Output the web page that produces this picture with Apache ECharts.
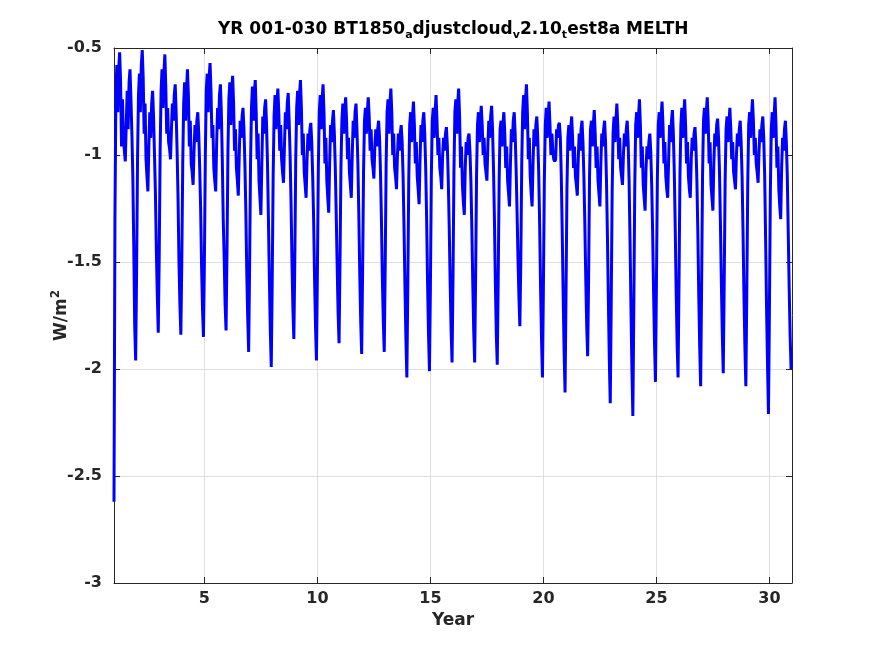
<!DOCTYPE html>
<html>
<head>
<meta charset="UTF-8">
<title>MELTH</title>
<script src="https://cdn.jsdelivr.net/npm/echarts@6/dist/echarts.min.js"></script>
<style>
  html, body { margin: 0; padding: 0; background: #fff; }
  #main { width: 875px; height: 656px; }
</style>
</head>
<body>
<div id="main"></div>
<script>
// time axis: 24 samples per year, first sample at year 1
var startYear = 1;
var stepsPerYear = 24;

// MELTH (W/m^2), one line per model year
var melthYears01to10 = [
  -2.62, -1.30, -0.72, -0.58, -0.80, -0.60, -0.52, -0.66, -0.96, -0.74, -0.92, -0.98, -1.03, -0.86, -0.70, -0.88, -0.66, -0.60, -0.74, -0.90, -1.10, -1.43, -1.80, -1.96,
  -1.55, -1.02, -0.72, -0.62, -0.80, -0.58, -0.51, -0.64, -0.90, -0.76, -1.02, -1.10, -1.17, -0.96, -0.80, -0.92, -0.76, -0.70, -0.82, -1.00, -1.18, -1.45, -1.66, -1.83,
  -1.48, -0.98, -0.70, -0.60, -0.78, -0.62, -0.53, -0.68, -0.90, -0.78, -0.94, -0.97, -1.02, -0.88, -0.76, -0.84, -0.72, -0.67, -0.80, -0.98, -1.20, -1.50, -1.70, -1.84,
  -1.50, -1.04, -0.76, -0.66, -0.84, -0.70, -0.60, -0.72, -0.96, -0.84, -1.04, -1.08, -1.14, -0.98, -0.86, -0.94, -0.84, -0.80, -0.90, -1.06, -1.25, -1.52, -1.72, -1.85,
  -1.50, -1.00, -0.70, -0.62, -0.80, -0.64, -0.57, -0.70, -0.92, -0.86, -1.06, -1.12, -1.17, -0.95, -0.78, -0.88, -0.72, -0.67, -0.80, -1.02, -1.30, -1.48, -1.70, -1.82,
  -1.45, -0.98, -0.74, -0.66, -0.86, -0.70, -0.63, -0.76, -0.98, -0.88, -1.06, -1.12, -1.19, -1.00, -0.84, -0.92, -0.82, -0.78, -0.88, -1.04, -1.26, -1.55, -1.76, -1.92,
  -1.52, -1.04, -0.78, -0.68, -0.84, -0.72, -0.65, -0.80, -1.02, -0.90, -1.12, -1.20, -1.28, -1.04, -0.82, -0.90, -0.78, -0.74, -0.86, -1.04, -1.30, -1.58, -1.82, -1.99,
  -1.60, -1.10, -0.82, -0.72, -0.88, -0.76, -0.69, -0.80, -0.98, -0.86, -1.02, -1.08, -1.13, -0.96, -0.80, -0.88, -0.76, -0.71, -0.84, -1.00, -1.22, -1.50, -1.72, -1.86,
  -1.50, -1.02, -0.78, -0.70, -0.86, -0.72, -0.65, -0.78, -1.00, -0.90, -1.08, -1.14, -1.20, -1.02, -0.90, -0.98, -0.88, -0.85, -0.94, -1.10, -1.30, -1.58, -1.80, -1.96,
  -1.55, -1.06, -0.80, -0.72, -0.88, -0.74, -0.67, -0.80, -1.04, -0.92, -1.12, -1.20, -1.27, -1.04, -0.86, -0.94, -0.84, -0.79, -0.90, -1.06, -1.28, -1.52, -1.74, -1.88
];
var melthYears11to20 = [
  -1.50, -1.06, -0.84, -0.76, -0.90, -0.80, -0.73, -0.84, -1.02, -0.92, -1.08, -1.14, -1.20, -1.00, -0.84, -0.92, -0.80, -0.76, -0.88, -1.04, -1.28, -1.56, -1.78, -1.93,
  -1.55, -1.08, -0.84, -0.78, -0.90, -0.80, -0.73, -0.82, -0.98, -0.88, -1.02, -1.06, -1.11, -0.96, -0.88, -0.96, -0.88, -0.84, -0.92, -1.08, -1.30, -1.58, -1.78, -1.92,
  -1.52, -1.04, -0.80, -0.74, -0.90, -0.76, -0.69, -0.80, -1.00, -0.90, -1.06, -1.10, -1.16, -1.00, -0.90, -0.98, -0.90, -0.86, -0.94, -1.10, -1.34, -1.62, -1.86, -2.04,
  -1.62, -1.12, -0.86, -0.80, -0.94, -0.82, -0.75, -0.86, -1.04, -0.94, -1.10, -1.16, -1.23, -1.02, -0.86, -0.94, -0.84, -0.80, -0.90, -1.06, -1.30, -1.60, -1.84, -2.01,
  -1.62, -1.10, -0.84, -0.78, -0.92, -0.80, -0.72, -0.84, -1.00, -0.92, -1.06, -1.10, -1.16, -1.00, -0.92, -0.98, -0.90, -0.87, -0.96, -1.12, -1.34, -1.60, -1.82, -1.97,
  -1.58, -1.08, -0.80, -0.74, -0.90, -0.76, -0.69, -0.82, -1.06, -0.96, -1.14, -1.22, -1.28, -1.06, -0.94, -1.00, -0.92, -0.90, -0.98, -1.12, -1.34, -1.60, -1.82, -1.97,
  -1.58, -1.10, -0.86, -0.80, -0.94, -0.84, -0.77, -0.86, -1.00, -0.92, -1.04, -1.08, -1.12, -0.96, -0.84, -0.92, -0.82, -0.77, -0.88, -1.06, -1.30, -1.60, -1.84, -1.98,
  -1.58, -1.12, -0.88, -0.84, -0.96, -0.86, -0.80, -0.90, -1.06, -0.96, -1.12, -1.18, -1.24, -1.04, -0.88, -0.94, -0.84, -0.80, -0.90, -1.06, -1.26, -1.48, -1.66, -1.80,
  -1.50, -1.04, -0.80, -0.72, -0.88, -0.74, -0.67, -0.80, -1.02, -0.92, -1.10, -1.18, -1.24, -1.04, -0.88, -0.96, -0.86, -0.82, -0.92, -1.08, -1.32, -1.62, -1.86, -2.04,
  -1.62, -1.12, -0.86, -0.78, -0.92, -0.82, -0.75, -0.86, -1.00, -0.90, -0.98, -1.02, -1.03, -1.02, -0.88, -0.92, -0.86, -0.85, -0.92, -1.10, -1.36, -1.66, -1.92, -2.11
];
var melthYears21to30 = [
  -1.66, -1.16, -0.92, -0.86, -0.98, -0.88, -0.82, -0.92, -1.06, -0.96, -1.10, -1.14, -1.19, -1.02, -0.90, -0.98, -0.88, -0.84, -0.94, -1.10, -1.32, -1.58, -1.80, -1.94,
  -1.58, -1.10, -0.88, -0.84, -0.96, -0.86, -0.79, -0.90, -1.06, -0.96, -1.12, -1.18, -1.24, -1.04, -0.90, -0.96, -0.88, -0.84, -0.94, -1.12, -1.38, -1.68, -1.96, -2.16,
  -1.70, -1.18, -0.90, -0.82, -0.94, -0.84, -0.76, -0.86, -1.02, -0.92, -1.06, -1.10, -1.14, -1.00, -0.90, -0.96, -0.88, -0.84, -0.94, -1.12, -1.40, -1.72, -2.00, -2.22,
  -1.72, -1.16, -0.86, -0.80, -0.92, -0.82, -0.74, -0.86, -1.06, -0.96, -1.14, -1.20, -1.26, -1.06, -0.96, -1.02, -0.94, -0.90, -0.98, -1.14, -1.36, -1.64, -1.88, -2.06,
  -1.62, -1.12, -0.86, -0.80, -0.92, -0.82, -0.75, -0.86, -1.04, -0.94, -1.10, -1.16, -1.20, -1.02, -0.86, -0.94, -0.84, -0.79, -0.90, -1.08, -1.34, -1.64, -1.88, -2.04,
  -1.60, -1.10, -0.86, -0.78, -0.92, -0.82, -0.74, -0.86, -1.04, -0.94, -1.10, -1.16, -1.20, -1.02, -0.92, -0.98, -0.90, -0.87, -0.96, -1.12, -1.36, -1.66, -1.90, -2.08,
  -1.62, -1.10, -0.84, -0.78, -0.90, -0.80, -0.73, -0.84, -1.04, -0.94, -1.14, -1.20, -1.26, -1.04, -0.90, -0.96, -0.86, -0.83, -0.92, -1.08, -1.32, -1.60, -1.84, -2.02,
  -1.60, -1.12, -0.88, -0.82, -0.94, -0.86, -0.78, -0.88, -1.02, -0.94, -1.08, -1.12, -1.16, -1.00, -0.90, -0.96, -0.88, -0.84, -0.94, -1.10, -1.36, -1.66, -1.90, -2.08,
  -1.64, -1.14, -0.86, -0.80, -0.92, -0.82, -0.74, -0.84, -1.00, -0.92, -1.04, -1.08, -1.13, -0.98, -0.88, -0.94, -0.86, -0.82, -0.92, -1.10, -1.40, -1.72, -1.98, -2.21,
  -1.74, -1.18, -0.88, -0.80, -0.92, -0.82, -0.73, -0.86, -1.06, -0.96, -1.16, -1.24, -1.30, -1.06, -0.92, -0.98, -0.88, -0.84, -0.94, -1.10, -1.36, -1.62, -1.84, -2.00
];

// tick labels
var xTicks = [5, 10, 15, 20, 25, 30];
var yTicks = [-3, -2.5, -2, -1.5, -1, -0.5];

var melth = [].concat(melthYears01to10, melthYears11to20, melthYears21to30);
var points = melth.map(function (v, i) {
    return [startYear + i / stepsPerYear, v];
});

var ink = '#262626';
var font = 'DejaVu Sans';

var myChart = echarts.init(document.getElementById('main'));

myChart.setOption({
    animation: false,
    backgroundColor: '#ffffff',
    title: {
        text: 'YR 001-030 BT1850{s|a}djustcloud{s|v}2.10{s|t}est8a MELTH',
        left: 213,
        top: 14,
        textStyle: {
            fontFamily: font,
            fontWeight: 'bold',
            fontSize: 17,
            color: '#000',
            lineHeight: 22,
            rich: {
                s: {
                    fontFamily: font,
                    fontWeight: 'bold',
                    fontSize: 11,
                    lineHeight: 11,
                    verticalAlign: 'bottom',
                    color: '#000'
                }
            }
        }
    },
    grid: {
        left: 114,
        right: 83,
        top: 48,
        bottom: 73
    },
    xAxis: [{
        type: 'value',
        min: 1,
        max: 31,
        position: 'bottom',
        name: 'Year',
        nameLocation: 'middle',
        nameGap: 26,
        nameTextStyle: { fontFamily: font, fontWeight: 'bold', fontSize: 17, color: ink },
        axisLine: { show: true, lineStyle: { color: ink, width: 1 } },
        axisTick: { show: true, inside: true, length: 6, customValues: xTicks, lineStyle: { color: ink } },
        axisLabel: { customValues: xTicks, fontFamily: font, fontWeight: 'bold', fontSize: 16, color: ink, margin: 8 },
        splitLine: { show: true, lineStyle: { color: '#dfdfdf', width: 1 } }
    }, {
        type: 'value',
        min: 1,
        max: 31,
        position: 'top',
        axisLine: { show: true, lineStyle: { color: ink, width: 1 } },
        axisTick: { show: true, inside: true, length: 6, customValues: xTicks, lineStyle: { color: ink } },
        axisLabel: { show: false },
        splitLine: { show: false }
    }],
    yAxis: [{
        type: 'value',
        min: -3,
        max: -0.5,
        interval: 0.5,
        position: 'left',
        name: 'W/m{sup|2}',
        nameLocation: 'middle',
        nameGap: 40,
        nameMoveOverlap: false,
        nameTextStyle: {
            fontFamily: font, fontWeight: 'bold', fontSize: 17, color: ink, lineHeight: 24,
            rich: {
                sup: { fontFamily: font, fontWeight: 'bold', fontSize: 12, lineHeight: 12, verticalAlign: 'top', color: ink }
            }
        },
        axisLine: { show: true, lineStyle: { color: ink, width: 1 } },
        axisTick: { show: true, inside: true, length: 6, lineStyle: { color: ink } },
        axisLabel: { fontFamily: font, fontWeight: 'bold', fontSize: 16, color: ink, margin: 12 },
        splitLine: { show: true, lineStyle: { color: '#dfdfdf', width: 1 } }
    }, {
        type: 'value',
        min: -3,
        max: -0.5,
        interval: 0.5,
        position: 'right',
        axisLine: { show: true, lineStyle: { color: ink, width: 1 } },
        axisTick: { show: true, inside: true, length: 6, lineStyle: { color: ink } },
        axisLabel: { show: false },
        splitLine: { show: false }
    }],
    series: [{
        name: 'MELTH',
        type: 'line',
        xAxisIndex: 0,
        yAxisIndex: 0,
        data: points,
        showSymbol: false,
        symbol: 'none',
        lineStyle: { color: '#0000ff', width: 3 },
        clip: true
    }]
});
</script>
</body>
</html>
